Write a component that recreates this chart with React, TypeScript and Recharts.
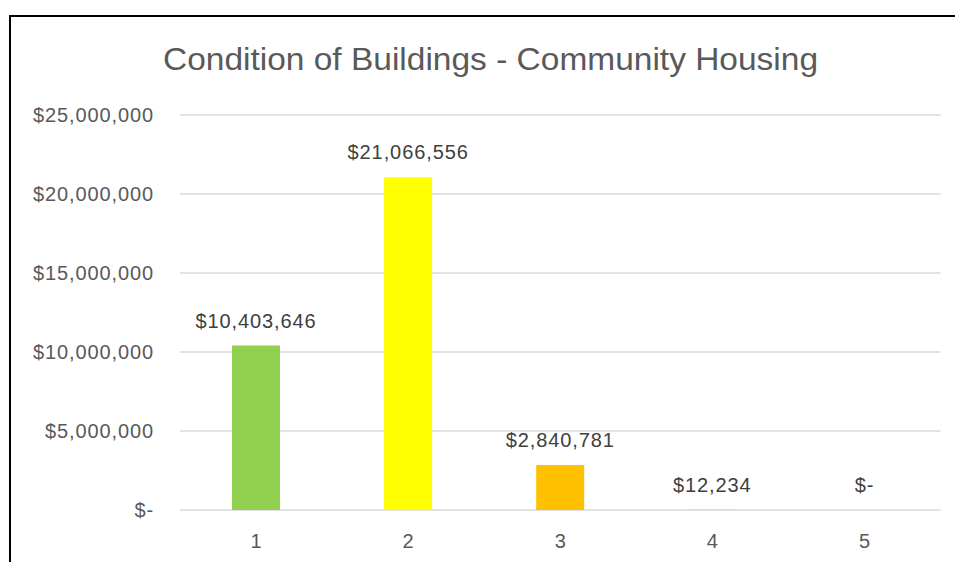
import React from "react";
import { ComposedChart, Bar, Line, XAxis, YAxis, CartesianGrid, Cell, LabelList } from "recharts";

const categories = ["1", "2", "3", "4", "5"];
const values = [10403646, 21066556, 2840781, 12234, 0];
const barColors = ["#92D050", "#FFFF00", "#FFC000", "#FFC000", "#FFC000"];
const yTicks = [0, 5000000, 10000000, 15000000, 20000000, 25000000];
const title = "Condition of Buildings - Community Housing";

const data = categories.map((c, i) => ({ name: c, value: values[i] }));

const fmt = (v: number) => (v === 0 ? "$-" : "$" + v.toLocaleString("en-US"));

const FONT = "'Liberation Sans', Arial, sans-serif";

export default function App() {
  return (
    <div style={{ position: "absolute", left: 0, top: 0, width: 955, height: 562, background: "#fff", overflow: "hidden" }}>
      <div
        style={{
          position: "absolute",
          left: 9,
          top: 15,
          width: 1000,
          height: 600,
          borderLeft: "2px solid #000",
          borderTop: "2px solid #000",
          boxSizing: "border-box",
        }}
      />
      <svg style={{ position: "absolute", left: 0, top: 0 }} width={955} height={100}>
        <text
          x={490.5}
          y={70}
          textAnchor="middle"
          fontFamily={FONT}
          fontSize={32}
          fill="#595959"
          textLength={655}
          lengthAdjust="spacingAndGlyphs"
        >
          {title}
        </text>
      </svg>
      <div style={{ position: "absolute", left: 0, top: 0 }}>
        <ComposedChart
          width={955}
          height={562}
          data={data}
          margin={{ top: 115, right: 14.5, bottom: 0, left: 0 }}
          barCategoryGap={52}
        >
          <CartesianGrid vertical={false} stroke="#d9d9d9" strokeWidth={1.5} />
          <YAxis
            width={180}
            domain={[0, 25000000]}
            ticks={yTicks}
            tickFormatter={fmt}
            axisLine={false}
            tickLine={false}
            tickSize={0}
            tickMargin={26}
            tick={{ fill: "#595959", fontSize: 20, fontFamily: FONT, letterSpacing: 0.9 }}
            interval={0}
          />
          <XAxis
            dataKey="name"
            height={52}
            axisLine={false}
            tickLine={false}
            tickSize={0}
            tickMargin={24}
            tick={{ fill: "#595959", fontSize: 20, fontFamily: FONT }}
          />
          <Bar dataKey="value" isAnimationActive={false} barSize={48}>
            {data.map((d, i) => (
              <Cell key={d.name} fill={barColors[i]} />
            ))}
          </Bar>
          <Line
            dataKey="value"
            stroke="none"
            dot={false}
            activeDot={false}
            isAnimationActive={false}
            legendType="none"
          >
            <LabelList
              dataKey="value"
              position="top"
              offset={18}
              formatter={(v: any) => fmt(Number(v))}
              style={{ fill: "#404040", fontSize: 20, fontFamily: FONT, letterSpacing: 0.9 }}
            />
          </Line>
        </ComposedChart>
      </div>
    </div>
  );
}
